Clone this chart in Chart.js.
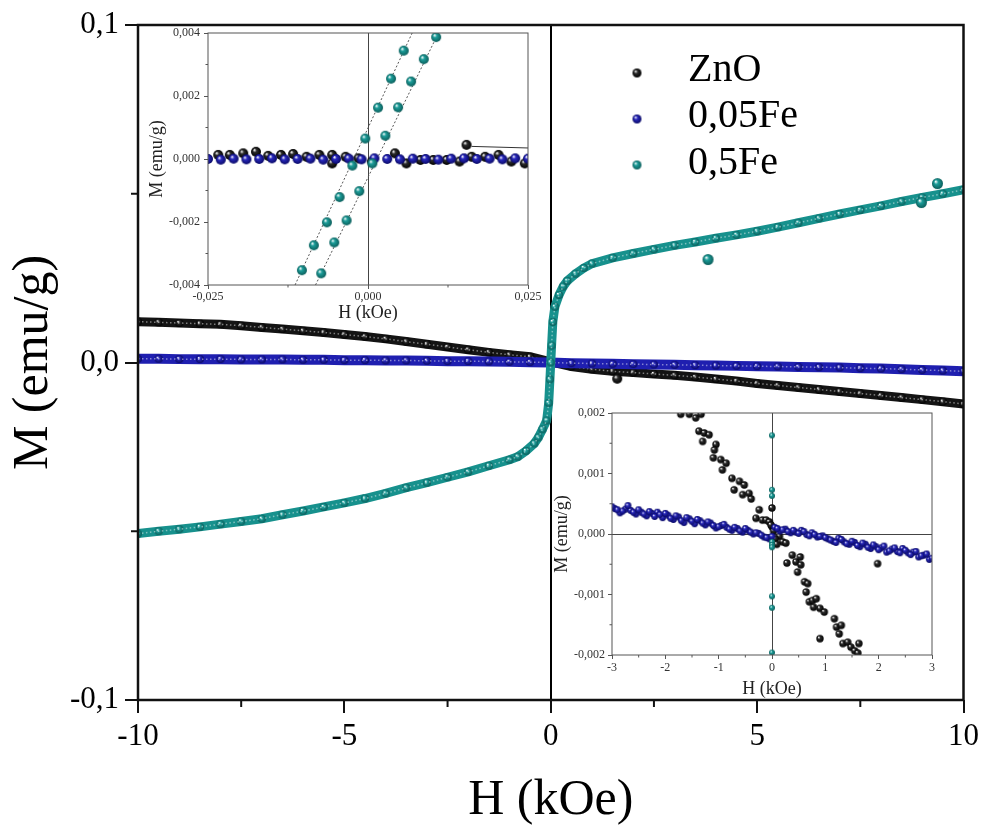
<!DOCTYPE html>
<html>
<head>
<meta charset="utf-8">
<script src="https://cdn.jsdelivr.net/npm/chart.js@4.4.0/dist/chart.umd.min.js"></script>
<style>
html, body { margin: 0; padding: 0; background: #fff; }
#wrap { position: relative; width: 984px; height: 827px; }
canvas { position: absolute; }
</style>
</head>
<body>
<div id="wrap">
  <canvas id="main" width="984" height="827" style="left:0;top:0"></canvas>
  <canvas id="ins1" width="420" height="305" style="left:140px;top:20px"></canvas>
  <canvas id="ins2" width="420" height="300" style="left:550px;top:400px"></canvas>
</div>
<script>
const SERIF = "'Liberation Serif', 'Times New Roman', serif";

// ---- main panel: M(H), H in kOe, M in emu/g ----
const hMain = [-10,-9.5,-9,-8.5,-8,-7.5,-7,-6.5,-6,-5.5,-5,-4.5,-4,-3.5,-3,-2.5,-2,-1.5,-1,-0.5,
               0,0.5,1,1.5,2,2.5,3,3.5,4,4.5,5,5.5,6,6.5,7,7.5,8,8.5,9,9.5,10];
const mZnO = [0.0121,0.0119,0.0117,0.0115,0.0113,0.0109,0.0104,0.0099,0.0094,0.0089,0.0083,0.0077,0.0070,0.0062,0.0054,0.0046,0.0038,0.0030,0.0023,0.0017,
              0.0002,-0.0012,-0.0020,-0.0026,-0.0030,-0.0034,-0.0038,-0.0043,-0.0049,-0.0055,-0.0062,-0.0068,-0.0074,-0.0080,-0.0086,-0.0092,-0.0098,-0.0104,-0.0110,-0.0116,-0.0123];
const mFe005 = [0.0011,0.0011,0.0010,0.0010,0.0010,0.0009,0.0009,0.0009,0.0008,0.0008,0.0007,0.0007,0.0006,0.0006,0.0005,0.0004,0.0004,0.0003,0.0002,0.0001,
                0.0000,-0.0002,-0.0003,-0.0004,-0.0005,-0.0006,-0.0007,-0.0008,-0.0009,-0.0010,-0.0011,-0.0012,-0.0013,-0.0014,-0.0015,-0.0017,-0.0018,-0.0020,-0.0022,-0.0024,-0.0026];
const hFe05 = [-10,-9.5,-9,-8.5,-8,-7.5,-7,-6.5,-6,-5.5,-5,-4.5,-4,-3.5,-3,-2.5,-2,-1.5,-1,-0.8,-0.6,-0.4,-0.3,-0.2,-0.1,-0.05,-0.02,
               0,0.02,0.05,0.1,0.2,0.3,0.4,0.6,0.8,1,1.5,2,2.5,3,3.5,4,4.5,5,5.5,6,6.5,7,7.5,8,8.5,9,9.5,10];
const mFe05 = [-0.0507,-0.0500,-0.0494,-0.0487,-0.0479,-0.0471,-0.0463,-0.0451,-0.0440,-0.0428,-0.0416,-0.0403,-0.0388,-0.0371,-0.0356,-0.0340,-0.0324,-0.0306,-0.0288,-0.0279,-0.0262,-0.0240,-0.0222,-0.0198,-0.0172,-0.0120,-0.0050,
               0.0000,0.0050,0.0120,0.0165,0.0200,0.0225,0.0242,0.0263,0.0280,0.0293,0.0310,0.0323,0.0335,0.0347,0.0357,0.0368,0.0378,0.0389,0.0401,0.0414,0.0427,0.0440,0.0452,0.0464,0.0477,0.0489,0.0500,0.0512];
const outFe05H = [3.81, 8.98, 9.37];
const outFe05M = [0.0305, 0.0474, 0.0530];
const outZnOH = [1.61];
const outZnOM = [-0.0048];

const mainXTicks = [-10, -5, 0, 5, 10];
const mainXLabels = ['-10', '-5', '0', '5', '10'];
const mainYTicks = [-0.1, 0, 0.1];
const mainYLabels = ['-0,1', '0,0', '0,1'];
const legendLabels = ['ZnO', '0,05Fe', '0,5Fe'];

// ---- inset 1: zoom around H = 0 (+-0.025 kOe) ----
const i1FeAH = [-0.01033,-0.00846,-0.00642,-0.00444,-0.00245,-0.00042,0.00157,0.00360,0.00558];
const i1FeAM = [-0.00353,-0.00274,-0.00201,-0.00121,-0.00021,0.00065,0.00163,0.00255,0.00344];
const i1FeBH = [-0.00731,-0.00527,-0.00334,-0.00136,0.00068,0.00271,0.00470,0.00673,0.00872,0.01065];
const i1FeBM = [-0.00363,-0.00265,-0.00195,-0.00102,-0.00014,0.00074,0.00164,0.00246,0.00317,0.00387];
const i1FitAH = [-0.0114, 0.0069];
const i1FitAM = [-0.004, 0.004];
const i1FitBH = [-0.0082, 0.0110];
const i1FitBM = [-0.004, 0.004];
const i1BlueH = [-0.025,-0.023,-0.021,-0.019,-0.017,-0.015,-0.013,-0.011,-0.009,-0.007,-0.005,-0.003,-0.001,
                 0.001,0.003,0.005,0.007,0.009,0.011,0.013,0.015,0.017,0.019,0.021,0.023,0.025];
const i1BlueM = [0.00000,-0.00002,0.00001,-0.00001,0.00000,0.00002,-0.00001,0.00000,0.00001,-0.00002,0.00000,0.00001,-0.00001,
                 0.00002,0.00000,-0.00001,0.00001,0.00000,-0.00002,0.00001,0.00002,0.00000,0.00001,-0.00001,0.00002,0.00001];
const i1ZnOH = [-0.0234,-0.0216,-0.0195,-0.0175,-0.0156,-0.0136,-0.0117,-0.0096,-0.0076,-0.0056,-0.0056,-0.0035,-0.0015,0.0006,
                0.0042,0.0060,0.0082,0.0102,0.0123,0.0143,0.0162,0.0183,0.0204,0.0224,0.0245,0.0154];
const i1ZnOM = [0.00013,0.00013,0.00018,0.00023,0.00010,0.00013,0.00016,0.00007,0.00013,0.00013,-0.00014,0.00007,0.00002,-0.00008,
                0.00018,-0.00014,-0.00003,-0.00003,-0.00003,-0.00008,0.00007,0.00007,0.00013,-0.00008,-0.00014,0.00045];
const i1TraceH = [0.0162, 0.0250];
const i1TraceM = [0.00040, 0.00035];
const i1XTicks = [-0.025, 0, 0.025];
const i1XLabels = ['-0,025', '0,000', '0,025'];
const i1YTicks = [-0.004, -0.002, 0, 0.002, 0.004];
const i1YLabels = ['-0,004', '-0,002', '0,000', '0,002', '0,004'];

// ---- inset 2: +-3 kOe ----
const i2BlueH = [-3.0,-2.9,-2.8,-2.7,-2.6,-2.5,-2.4,-2.3,-2.2,-2.1,-2.0,-1.9,-1.8,-1.7,-1.6,-1.5,-1.4,-1.3,-1.2,-1.1,-1.0,
                 -0.9,-0.8,-0.7,-0.6,-0.5,-0.4,-0.3,-0.2,-0.1,0.0,0.1,0.2,0.3,0.4,0.5,0.6,0.7,0.8,0.9,1.0,
                 1.1,1.2,1.3,1.4,1.5,1.6,1.7,1.8,1.9,2.0,2.1,2.2,2.3,2.4,2.5,2.6,2.7,2.8,2.9,3.0];
const i2BlueM = [0.00045,0.00040,0.00038,0.00047,0.00036,0.00040,0.00033,0.00037,0.00029,0.00032,0.00034,0.00026,0.00030,0.00022,0.00027,0.00021,0.00024,0.00018,0.00020,0.00014,0.00012,
                 0.00016,0.00008,0.00011,0.00005,0.00009,0.00003,0.00002,-0.00002,-0.00006,-0.00004,0.00009,0.00007,0.00004,0.00006,0.00001,0.00004,-0.00003,-0.00001,-0.00004,-0.00006,
                 -0.00010,-0.00014,-0.00009,-0.00016,-0.00012,-0.00019,-0.00015,-0.00022,-0.00018,-0.00026,-0.00020,-0.00028,-0.00023,-0.00031,-0.00027,-0.00034,-0.00029,-0.00036,-0.00033,-0.00040];
const i2Blue2H = [-2.95,-2.85,-2.75,-2.65,-2.55,-2.45,-2.35,-2.25,-2.15,-2.05,-1.95,-1.85,-1.75,-1.65,-1.55,-1.45,-1.35,-1.25,-1.15,-1.05,
                  -0.95,-0.85,-0.75,-0.65,-0.55,-0.45,-0.35,-0.25,-0.15,-0.05,0.05,0.15,0.25,0.35,0.45,0.55,0.65,0.75,0.85,0.95,
                  1.05,1.15,1.25,1.35,1.45,1.55,1.65,1.75,1.85,1.95,2.05,2.15,2.25,2.35,2.45,2.55,2.65,2.75,2.85,2.95];
const i2Blue2M = [0.00042,0.00035,0.00041,0.00039,0.00033,0.00036,0.00030,0.00034,0.00036,0.00027,0.00031,0.00024,0.00028,0.00019,0.00025,0.00017,0.00022,0.00015,0.00018,0.00010,
                  0.00014,0.00011,0.00006,0.00009,0.00003,0.00006,0.00000,0.00001,-0.00005,-0.00008,0.00011,0.00005,0.00008,0.00002,0.00003,0.00006,-0.00001,0.00002,-0.00005,-0.00003,
                  -0.00008,-0.00012,-0.00007,-0.00013,-0.00017,-0.00014,-0.00021,-0.00017,-0.00024,-0.00021,-0.00023,-0.00030,-0.00025,-0.00029,-0.00024,-0.00031,-0.00030,-0.00038,-0.00035,-0.00042];
const i2ZnOH = [-1.71,-1.55,-1.43,-1.33,-1.37,-1.27,-1.18,-1.30,-1.05,-1.08,-1.10,-0.96,-0.93,-0.86,-0.75,-0.61,-0.71,-0.52,-0.55,-0.43,
                -0.39,-0.24,-0.30,-0.18,-0.11,-0.05,0.00,0.00,0.14,0.20,0.26,0.28,0.38,0.45,0.48,0.53,0.54,0.61,0.67,0.64,
                0.70,0.76,0.83,0.78,0.90,0.98,0.90,1.17,1.21,1.26,1.30,1.33,1.42,1.48,1.55,1.63,1.61,1.98,-0.02,0.03,0.06,0.09];
const i2ZnOM = [0.00198,0.00198,0.00192,0.00198,0.00170,0.00167,0.00164,0.00153,0.00148,0.00139,0.00126,0.00123,0.00106,0.00117,0.00092,0.00087,0.00073,0.00081,0.00065,0.00067,
                0.00058,0.00040,0.00026,0.00023,0.00023,0.00020,0.00043,0.00012,-0.00004,-0.00013,-0.00015,-0.00048,-0.00035,-0.00046,-0.00063,-0.00038,-0.00051,-0.00079,-0.00082,-0.00096,
                -0.00112,-0.00110,-0.00107,-0.00121,-0.00123,-0.00129,-0.00173,-0.00140,-0.00154,-0.00165,-0.00151,-0.00181,-0.00179,-0.00187,-0.00193,-0.00181,-0.00197,-0.00049,0.00015,0.00005,-0.00008,-0.00017];
const i2FeH = [0,0,0,0,0,0,0,0,0];
const i2FeM = [0.00163,0.00073,0.00063,-0.00013,-0.00018,-0.00022,-0.00103,-0.00122,-0.00196];
const i2XTicks = [-3, -2, -1, 0, 1, 2, 3];
const i2XLabels = ['-3', '-2', '-1', '0', '1', '2', '3'];
const i2YTicks = [-0.002, -0.001, 0, 0.001, 0.002];
const i2YLabels = ['-0,002', '-0,001', '0,000', '0,001', '0,002'];

const COL = {
  zno:  { base: '#2b2b2b', dark: '#000000', line: '#141414' },
  fe005:{ base: '#2828bc', dark: '#0a0a66', line: '#1f1fb0' },
  fe05: { base: '#1c9d99', dark: '#0b5e5b', line: '#17918d' }
};

function sphere(c, r) {
  const cv = document.createElement('canvas');
  const d = Math.ceil(r * 2) + 2;
  cv.width = cv.height = d;
  const g = cv.getContext('2d');
  const m = d / 2;
  const grd = g.createRadialGradient(m - r * 0.35, m - r * 0.4, r * 0.05, m, m, r);
  grd.addColorStop(0, '#ffffff');
  grd.addColorStop(0.35, c.base);
  grd.addColorStop(1, c.dark);
  g.fillStyle = grd;
  g.beginPath();
  g.arc(m, m, r, 0, Math.PI * 2);
  g.fill();
  return cv;
}

const xy = (xs, ys) => xs.map((x, i) => ({ x: x, y: ys[i] }));

// frame and minor ticks
const framePlugin = {
  id: 'frame',
  afterDraw(chart, args, o) {
    const a = chart.chartArea, ctx = chart.ctx;
    ctx.save();
    ctx.strokeStyle = o.color;
    ctx.lineWidth = o.width;
    ctx.strokeRect(a.left, a.top, a.right - a.left, a.bottom - a.top);
    ctx.lineWidth = o.tickWidth;
    const sx = chart.scales.x, sy = chart.scales.y;
    (o.minorX || []).forEach(v => {
      const p = sx.getPixelForValue(v);
      ctx.beginPath(); ctx.moveTo(p, a.bottom); ctx.lineTo(p, a.bottom + o.minorLen); ctx.stroke();
    });
    (o.minorY || []).forEach(v => {
      const p = sy.getPixelForValue(v);
      ctx.beginPath(); ctx.moveTo(a.left, p); ctx.lineTo(a.left - o.minorLen, p); ctx.stroke();
    });
    ctx.restore();
  }
};

const legendDots = [sphere(COL.zno, 4.5), sphere(COL.fe005, 4.5), sphere(COL.fe05, 4.5)];
const legendPlugin = {
  id: 'sampleLegend',
  afterDraw(chart) {
    const ctx = chart.ctx;
    ctx.save();
    ctx.font = '40px ' + SERIF;
    ctx.fillStyle = '#000';
    ctx.textBaseline = 'middle';
    legendLabels.forEach((t, i) => {
      const dot = legendDots[i];
      ctx.drawImage(dot, 637 - dot.width / 2, 73 + i * 46 - dot.height / 2);
      ctx.fillText(t, 688, 70 + i * 46.5);
    });
    ctx.restore();
  }
};

function zeroColor(col) {
  return c => (c.tick && c.tick.value === 0) ? col : 'rgba(0,0,0,0)';
}

function axes(cfg) {
  return {
    x: {
      type: 'linear', min: cfg.xMin, max: cfg.xMax,
      afterBuildTicks: s => { s.ticks = cfg.xTicks.map(v => ({ value: v })); },
      afterFit: s => { s.height = cfg.xH; },
      ticks: { callback: (v, i) => cfg.xLabels[i], font: { family: SERIF, size: cfg.tickSize }, color: cfg.tickColor, padding: cfg.xPad, maxRotation: 0, autoSkip: false },
      grid: { drawOnChartArea: true, color: zeroColor(cfg.zeroCol), lineWidth: cfg.zeroW, tickColor: cfg.frameCol, tickWidth: cfg.tickW, tickLength: cfg.tickLen },
      border: { display: false },
      title: { display: true, text: 'H (kOe)', font: { family: SERIF, size: cfg.titleSize }, color: cfg.titleColor, padding: { top: 0, bottom: cfg.xTitlePad } }
    },
    y: {
      type: 'linear', min: cfg.yMin, max: cfg.yMax,
      afterBuildTicks: s => { s.ticks = cfg.yTicks.map(v => ({ value: v })); },
      afterFit: s => { s.width = cfg.yW; },
      ticks: { callback: (v, i) => cfg.yLabels[i], font: { family: SERIF, size: cfg.tickSize }, color: cfg.tickColor, padding: cfg.yPad, autoSkip: false },
      grid: { drawOnChartArea: cfg.hZero, color: zeroColor(cfg.zeroCol), lineWidth: cfg.zeroW, tickColor: cfg.frameCol, tickWidth: cfg.tickW, tickLength: cfg.tickLen },
      border: { display: false },
      title: { display: true, text: 'M (emu/g)', font: { family: SERIF, size: cfg.titleSize }, color: cfg.titleColor, padding: { top: cfg.yTitlePad, bottom: 0 } }
    }
  };
}

function band(label, xs, ys, c, r, bw, order) {
  return { label: label, data: xy(xs, ys), showLine: bw > 0, borderColor: c.line, borderWidth: bw,
           pointStyle: sphere(c, r), pointRadius: r, order: order };
}
// light dotted sheen over a dense band, same points
function sheen(xs, ys, order) {
  return { label: 'sheen', data: xy(xs, ys), showLine: true, borderColor: 'rgba(255,255,255,0.45)', borderWidth: 1.5,
           borderDash: [1.5, 2.5], pointRadius: 0, order: order };
}
function dots(label, xs, ys, c, r, order) {
  return { label: label, data: xy(xs, ys), showLine: false, pointStyle: sphere(c, r), pointRadius: r, order: order };
}
function fit(xs, ys, col, dash, order) {
  return { label: 'fit', data: xy(xs, ys), showLine: true, borderColor: col, borderWidth: 1, borderDash: dash, pointRadius: 0, order: order };
}

new Chart(document.getElementById('main'), {
  type: 'scatter',
  data: { datasets: [
    band('0,5Fe', hFe05, mFe05, COL.fe05, 4, 9, 0),
    sheen(hFe05, mFe05, -1),
    dots('0,5Fe', outFe05H, outFe05M, COL.fe05, 5.5, -2),
    band('0,05Fe', hMain, mFe005, COL.fe005, 4, 10, 1),
    sheen(hMain, mFe005, 0.9),
    band('ZnO', hMain, mZnO, COL.zno, 4, 9, 2),
    sheen(hMain, mZnO, 1.9),
    dots('ZnO', outZnOH, outZnOM, COL.zno, 5, 1.8)
  ]},
  options: {
    responsive: false, animation: false, events: [],
    layout: { padding: { left: 0, right: 19, top: 25, bottom: 0 } },
    plugins: {
      legend: { display: false }, tooltip: { enabled: false },
      frame: { color: '#111', width: 2.5, tickWidth: 2, minorLen: 7, minorX: [-7.5, -2.5, 2.5, 7.5], minorY: [-0.05, 0.05] }
    },
    scales: axes({ xMin: -10, xMax: 10, yMin: -0.1, yMax: 0.1, xTicks: mainXTicks, xLabels: mainXLabels, yTicks: mainYTicks, yLabels: mainYLabels,
                   xH: 127, yW: 138, tickSize: 31, tickColor: '#000', xPad: 5, yPad: 6, zeroCol: '#000', zeroW: 2, frameCol: '#111', tickW: 2,
                   tickLen: 13, titleSize: 50, titleColor: '#000', xTitlePad: -4, yTitlePad: 4, hZero: false })
  },
  plugins: [framePlugin, legendPlugin]
});

new Chart(document.getElementById('ins1'), {
  type: 'scatter',
  data: { datasets: [
    fit(i1FitAH, i1FitAM, '#555', [2, 2], 3),
    fit(i1FitBH, i1FitBM, '#555', [2, 2], 3),
    dots('0,5Fe', i1FeAH, i1FeAM, COL.fe05, 5, 0),
    dots('0,5Fe', i1FeBH, i1FeBM, COL.fe05, 5, 0),
    dots('0,05Fe', i1BlueH, i1BlueM, COL.fe005, 5, 1),
    dots('ZnO', i1ZnOH, i1ZnOM, COL.zno, 5, 2),
    fit(i1TraceH, i1TraceM, '#333', [], 2)
  ]},
  options: {
    responsive: false, animation: false, events: [],
    layout: { padding: { left: 0, right: 32, top: 13, bottom: 0 } },
    plugins: {
      legend: { display: false }, tooltip: { enabled: false },
      frame: { color: '#555', width: 1, tickWidth: 1, minorLen: 2.5, minorX: [-0.0125, 0.0125], minorY: [-0.003, -0.001, 0.001, 0.003] }
    },
    scales: axes({ xMin: -0.025, xMax: 0.025, yMin: -0.004, yMax: 0.004, xTicks: i1XTicks, xLabels: i1XLabels, yTicks: i1YTicks, yLabels: i1YLabels,
                   xH: 40, yW: 68, tickSize: 12, tickColor: '#333', xPad: 1, yPad: 4, zeroCol: '#444', zeroW: 1, frameCol: '#555', tickW: 1,
                   tickLen: 4, titleSize: 18, titleColor: '#222', xTitlePad: 1, yTitlePad: 6, hZero: false })
  },
  plugins: [framePlugin]
});

new Chart(document.getElementById('ins2'), {
  type: 'scatter',
  data: { datasets: [
    dots('0,5Fe', i2FeH, i2FeM, COL.fe05, 3, 0),
    dots('0,05Fe', i2BlueH, i2BlueM, COL.fe005, 3.4, 1),
    dots('0,05Fe', i2Blue2H, i2Blue2M, COL.fe005, 3.4, 1),
    dots('ZnO', i2ZnOH, i2ZnOM, COL.zno, 3.7, 2)
  ]},
  options: {
    responsive: false, animation: false, events: [],
    layout: { padding: { left: 0, right: 38, top: 13, bottom: 0 } },
    plugins: {
      legend: { display: false }, tooltip: { enabled: false },
      frame: { color: '#555', width: 1, tickWidth: 1, minorLen: 2.5, minorX: [-2.5, -1.5, -0.5, 0.5, 1.5, 2.5], minorY: [-0.0015, -0.0005, 0.0005, 0.0015] }
    },
    scales: axes({ xMin: -3, xMax: 3, yMin: -0.002, yMax: 0.002, xTicks: i2XTicks, xLabels: i2XLabels, yTicks: i2YTicks, yLabels: i2YLabels,
                   xH: 45, yW: 62, tickSize: 12, tickColor: '#333', xPad: 2, yPad: 3, zeroCol: '#444', zeroW: 1, frameCol: '#555', tickW: 1,
                   tickLen: 4, titleSize: 18, titleColor: '#222', xTitlePad: 0, yTitlePad: 1, hZero: true })
  },
  plugins: [framePlugin]
});
</script>
</body>
</html>
